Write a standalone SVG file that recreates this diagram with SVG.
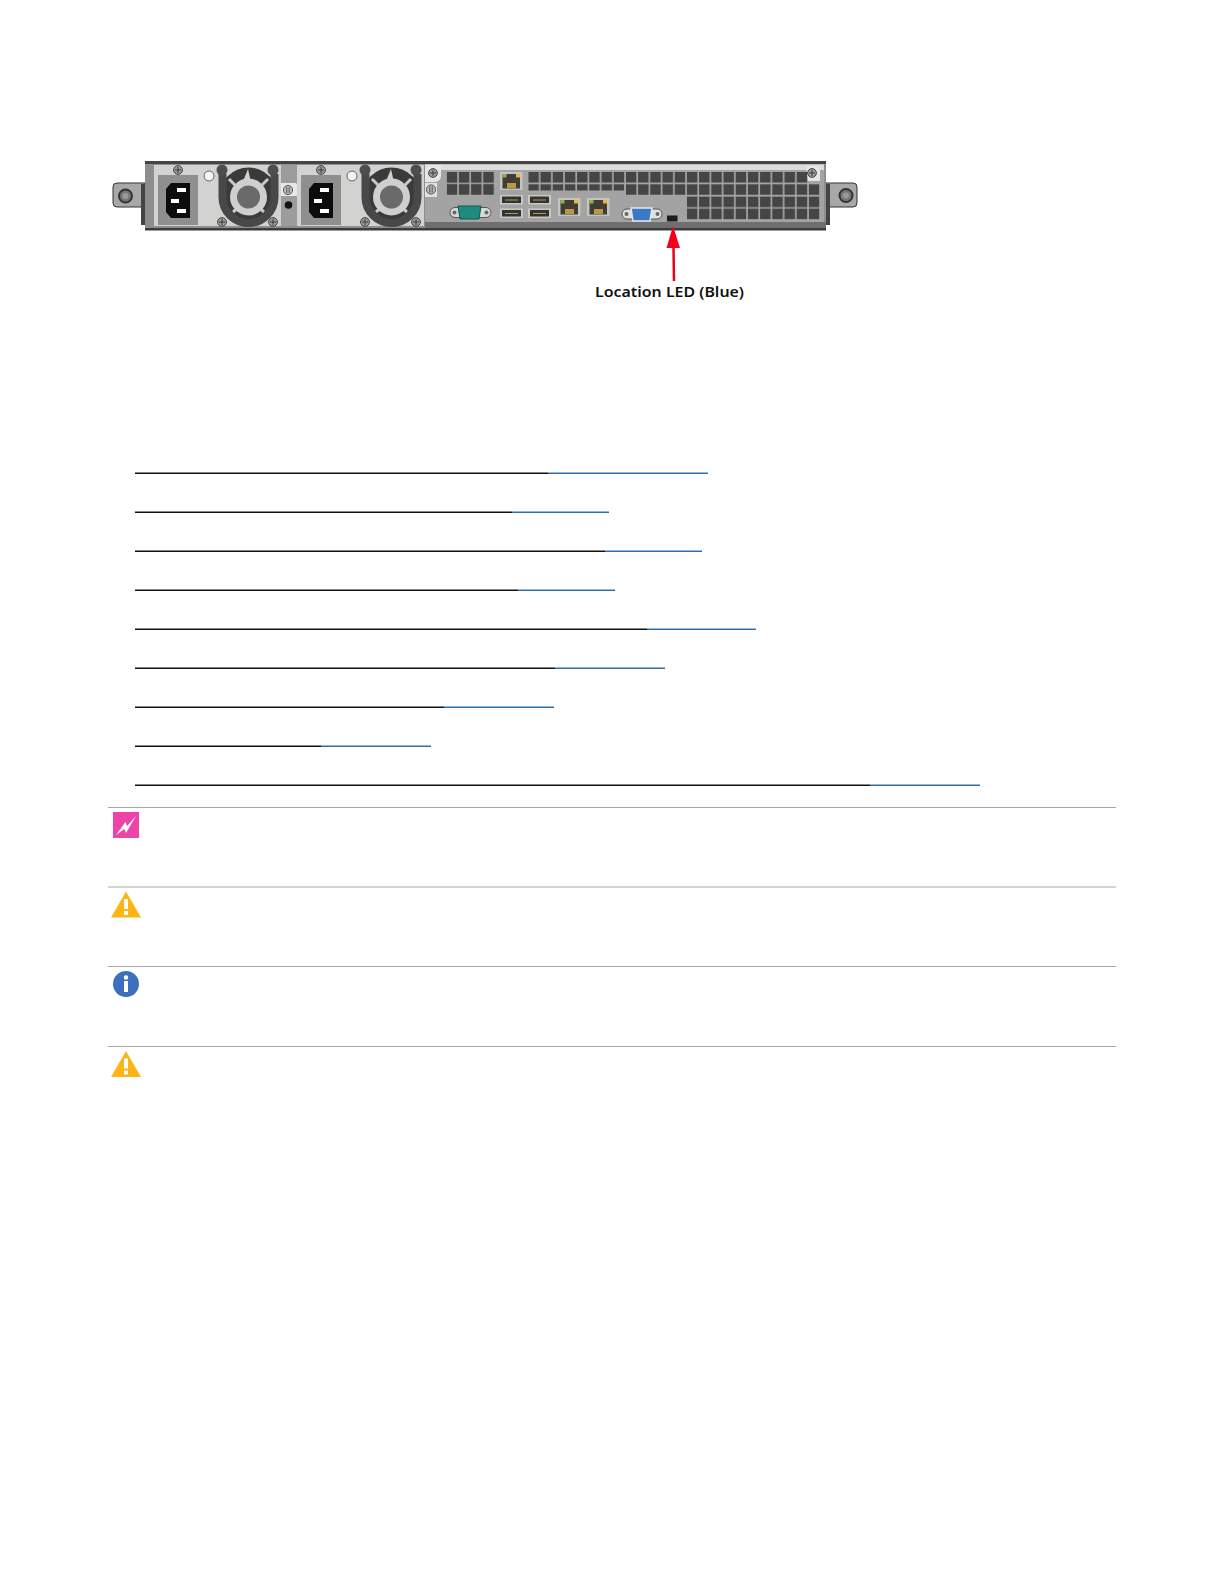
<svg xmlns="http://www.w3.org/2000/svg" width="1224" height="1584" viewBox="0 0 1224 1584">
<style>
.k{stroke:#111;stroke-width:1.4}.b{stroke:#2f6ea8;stroke-width:1.4}.r{stroke:#a6a6a6;stroke-width:1}
.sc{fill:#999;stroke:#444;stroke-width:1}.scl{stroke:#333;stroke-width:.9}
.usb{fill:#c8c8c4}.usbi{fill:#35332a}.rj{fill:#c4c4c0}.rji{fill:#3f3d34}
text{font-family:"Noto Sans","Open Sans",sans-serif;font-weight:600;font-size:15px;fill:#111}
</style>
<defs>
<pattern id="v1" patternUnits="userSpaceOnUse" x="528.3" y="172" width="12.2" height="12.2"><rect width="10.5" height="10.8" fill="#454545"/></pattern>
<pattern id="v2" patternUnits="userSpaceOnUse" x="446.7" y="172" width="12.2" height="12.2"><rect width="10.5" height="10.8" fill="#454545"/></pattern>
<g id="screw"><circle r="4.4" class="sc"/><path d="M-3 0H3M0-3V3" class="scl"/></g>
<g id="thumb"><circle r="4.6" fill="#bbb" stroke="#555"/><path d="M-1.2-3V3M1.2-3V3" stroke="#555"/></g>
<g id="rj45"><rect width="22.5" height="18" class="rj"/><rect x="2.5" y="2" width="17.5" height="14.5" class="rji"/><rect x="2.5" y="2" width="4" height="3.5" fill="#8fb04a"/><rect x="16" y="2" width="4" height="3.5" fill="#eeb32a"/><rect x="7" y="11" width="9" height="5" fill="#b79a45"/></g>
<g id="usb"><rect width="23" height="9.5" class="usb"/><rect x="2" y="1.500" width="19" height="6.500" class="usbi"/><path d="M5 5H18" stroke="#a89d70"/></g>
<g id="psu">
<rect x="154" y="165" width="127" height="61" fill="#d2d2d0"/>
<rect x="158" y="175" width="40" height="50" fill="#8f8f8f"/>
<path d="M171 183H190V218H171L166 212V189Z" fill="#0c0c0c"/>
<rect x="177" y="188" width="9" height="4" fill="#fff"/><rect x="171" y="199" width="8" height="4" fill="#fff"/><rect x="177" y="209" width="9" height="4" fill="#fff"/>
<use href="#screw" x="178" y="170"/>
<circle cx="209" cy="176" r="5" fill="#f4f4f0" stroke="#666"/>
<circle cx="248.500" cy="197" r="29.500" fill="#3a3a3a"/>
<path d="M248 169L252 187L241 186Z" fill="#d8cfc0"/>
<path d="M229 179L238 188M268 179L259 188M233 212L240 206M264 212L257 206" stroke="#c8c8c8" stroke-width="3"/>
<circle cx="248.500" cy="197" r="15" fill="#6a6a6a" stroke="#cfcfcf" stroke-width="7"/>
<path d="M222.500 174V197A26 26 0 0 0 274.500 197V174" fill="none" stroke="#484848" stroke-width="8"/>
<circle cx="222" cy="170" r="5.500" fill="#4e4e4e"/><circle cx="273" cy="170" r="5.500" fill="#4e4e4e"/>
<use href="#screw" x="222" y="222"/><use href="#screw" x="273" y="222"/>
</g>
</defs>
<rect width="1224" height="1584" fill="#fff"/>
<g id="server">
<g id="ear-left"><path d="M145 183H117Q113 183 113 187V203Q113 207 117 207H145Z" fill="#a8a8a8" stroke="#333"/><circle cx="125.500" cy="196" r="6.500" fill="#777" stroke="#333" stroke-width="2"/><circle cx="125.500" cy="196" r="3" fill="#999"/><rect x="141" y="184" width="4" height="41" fill="#444"/></g>
<g id="ear-right"><path d="M826 183H853Q857 183 857 187V203Q857 207 853 207H826Z" fill="#a8a8a8" stroke="#333"/><circle cx="846" cy="195.500" r="6.500" fill="#777" stroke="#333" stroke-width="2"/><circle cx="846" cy="195.500" r="3" fill="#999"/><rect x="826" y="184" width="4" height="41" fill="#444"/></g>
<g id="chassis"><rect x="145" y="161" width="681" height="69" fill="#8e8e8e"/><rect x="145" y="161" width="681" height="3" fill="#444"/><rect x="145" y="228" width="681" height="2.500" fill="#3c3c3c"/><rect x="425" y="164" width="399" height="58" fill="#a3a3a3"/><rect x="425" y="164.500" width="399" height="5.500" fill="#dcdcda"/><rect x="425" y="222" width="401" height="6" fill="#6f6f6f"/></g>
<g id="psu-1"><use href="#psu"/></g>
<g id="psu-gap"><rect x="281" y="165" width="17" height="61" fill="#9c9c9c"/><path d="M281 183H295Q297 183 297 185V196H281Z" fill="#e8e8e6"/><use href="#thumb" x="288" y="190"/><circle cx="288.500" cy="205" r="3.800" fill="#111"/></g>
<g id="psu-2"><use href="#psu" x="143"/></g>
<g id="io-plate"><path d="M425 165H441V176Q441 182 433 182H425Z" fill="#e6e6e4"/><use href="#screw" x="433" y="173"/><path d="M425 183H437V197H425Z" fill="#e2e2e0"/><use href="#thumb" x="431" y="189.500"/>
<path d="M806 166H820V181H808Z" fill="#e6e6e4"/><use href="#screw" x="812" y="173"/></g>
<g id="vents">
<rect x="446.700" y="172" width="47.800" height="23" fill="url(#v2)"/>
<rect x="528.300" y="172" width="279" height="10.800" fill="url(#v1)"/>
<rect x="528.300" y="184.200" width="96" height="6.300" fill="url(#v1)"/>
<rect x="626" y="184.200" width="193.500" height="10.800" fill="url(#v1)"/>
<rect x="686.900" y="196.400" width="132.600" height="23" fill="url(#v1)"/>
</g>
<g id="ports">
<use href="#rj45" x="500" y="172"/><use href="#rj45" x="558" y="198"/><use href="#rj45" x="587" y="198"/>
<use href="#usb" x="500" y="195"/><use href="#usb" x="528" y="195"/><use href="#usb" x="500" y="208.500"/><use href="#usb" x="528" y="208.500"/>
<g id="serial"><rect x="450" y="207.500" width="41" height="10" rx="5" fill="#d8d8d6" stroke="#555"/><circle cx="454.500" cy="212.500" r="2" fill="#666"/><circle cx="486.500" cy="212.500" r="2" fill="#666"/><path d="M458 206H481L479 219H460Z" fill="#1f8a80" stroke="#0d5a55"/></g>
<g id="vga"><rect x="622" y="209" width="40" height="10" rx="5" fill="#e2e2e0" stroke="#555"/><circle cx="626.500" cy="214" r="2" fill="#666"/><circle cx="657.500" cy="214" r="2" fill="#666"/><path d="M631 208H652L650 221H633Z" fill="#3d78c4" stroke="#dfe8f0" stroke-width="1.500"/></g>
</g>
<g id="location-led"><rect x="667" y="215.500" width="10.500" height="6" fill="#1c1c1c"/></g>
</g>
<g id="connectors">
<path d="M673.500 247L674 281" stroke="#e8001c" stroke-width="2.500" fill="none"/>
<path d="M673 226L680 248H666.500Z" fill="#f4001c"/>
</g>
<g id="label-location-led"><text x="595" y="297" textLength="149" lengthAdjust="spacingAndGlyphs">Location LED (Blue)</text></g>
<g id="blank-lines">
<path class="k" d="M135 473.200H548M135 512.200H512M135 551.200H605M135 590.200H518M135 629.200H647M135 668.200H555M135 707.200H444M135 746.200H321M135 785.200H870"/>
<path class="b" d="M548 473.200H708M512 512.200H609M605 551.200H702M518 590.200H615M647 629.200H756M555 668.200H665M444 707.200H554M321 746.200H431M870 785.200H980"/>
</g>
<g id="rules"><path class="r" d="M108 807.500H1116M108 887H1116M108 966.500H1116M108 1046.500H1116"/></g>
<g id="icon-warning"><rect x="113" y="812" width="26" height="26" fill="#ec44a8"/><path d="M136 816L127 826L125.500 822L116 835L124.500 829L126 833Z" fill="#fff"/></g>
<g id="icon-caution-1"><path d="M126 891.500L141 917.500H111Z" fill="#fdb515"/><rect x="124" y="899" width="4" height="10" fill="#fff"/><rect x="124" y="911" width="4" height="4" fill="#fff"/></g>
<g id="icon-info"><circle cx="126" cy="984" r="13" fill="#3b70bd"/><circle cx="126" cy="977.500" r="2.200" fill="#fff"/><rect x="124" y="981" width="4" height="11" fill="#fff"/></g>
<g id="icon-caution-2"><path d="M126 1051L141 1077H111Z" fill="#fdb515"/><rect x="124" y="1058.500" width="4" height="10" fill="#fff"/><rect x="124" y="1070.500" width="4" height="4" fill="#fff"/></g>
</svg>
